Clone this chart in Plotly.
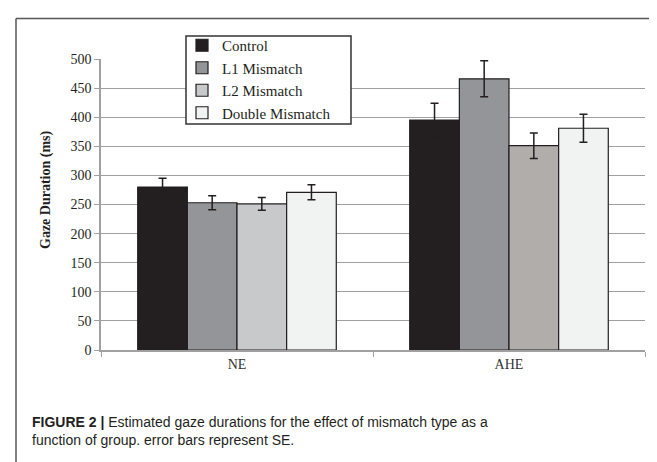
import plotly.graph_objects as go

groups = ["NE", "AHE"]
series = ["Control", "L1 Mismatch", "L2 Mismatch", "Double Mismatch"]
control = [280, 395]
l1_mismatch = [253, 466]
l2_mismatch = [251, 351]
double_mismatch = [271, 381]
control_se = [15, 29]
l1_se = [12, 31]
l2_se = [11, 22]
double_se = [13, 24]

values = [control, l1_mismatch, l2_mismatch, double_mismatch]
errors = [control_se, l1_se, l2_se, double_se]
colors = [["#231f20", "#231f20"], ["#939598", "#939598"],
          ["#c8c9cb", "#b1adab"], ["#f1f2f2", "#f1f2f2"]]

W, H = 657, 462
L, R, T, B = 93, 20, 51, 120
pw, ph = W - L - R, H - T - B


def px_x(x):
    return (x - L) / pw


def px_y(y):
    return (H - B - y) / ph


fig = go.Figure()
for name, vals, errs, col in zip(series, values, errors, colors):
    fig.add_trace(go.Bar(
        name=name, x=groups, y=vals,
        marker=dict(color=col, line=dict(color="#231f20", width=1.2)),
        error_y=dict(type="data", array=errs, visible=True,
                     color="#231f20", thickness=1.5, width=4),
    ))

fig.update_layout(
    width=W, height=H,
    margin=dict(l=L, r=R, t=T, b=B),
    paper_bgcolor="white", plot_bgcolor="white",
    barmode="group", bargap=0.27, bargroupgap=0,
    font=dict(family="Liberation Serif", size=14, color="#231f20"),
    showlegend=True,
    legend=dict(x=px_x(174), y=px_y(21), xanchor="left", yanchor="top",
                bgcolor="rgba(0,0,0,0)", borderwidth=0,
                font=dict(family="Liberation Serif", size=15, color="#231f20"),
                itemwidth=30, tracegroupgap=0),
    xaxis=dict(showline=True, linecolor="#a0a0a0", linewidth=1.5,
               ticks="outside", tickson="boundaries", tickcolor="#a0a0a0",
               ticklen=5, showgrid=False,
               tickfont=dict(family="Liberation Serif", size=14, color="#333333")),
    yaxis=dict(range=[0, 500], dtick=50, showline=True, linecolor="#a0a0a0",
               linewidth=1.5, ticks="outside", tickcolor="#a0a0a0", ticklen=5,
               showgrid=True, gridcolor="#a0a0a0", gridwidth=1.2,
               zeroline=False,
               tickfont=dict(family="Liberation Serif", size=14, color="#231f20")),
    shapes=[
        dict(type="line", xref="paper", yref="paper",
             x0=px_x(8), x1=px_x(670), y0=px_y(10.5), y1=px_y(10.5),
             line=dict(color="#555555", width=1.5)),
        dict(type="line", xref="paper", yref="paper",
             x0=px_x(8), x1=px_x(8), y0=px_y(10.5), y1=px_y(480),
             line=dict(color="#555555", width=1.5)),
        dict(type="rect", xref="paper", yref="paper", layer="above",
             x0=px_x(178), x1=px_x(343), y0=px_y(28), y1=px_y(116),
             fillcolor="white", line=dict(color="#333333", width=1.5)),
    ],
    annotations=[
        dict(text="<b>Gaze Duration (ms)</b>", textangle=-90,
             xref="paper", yref="paper", x=px_x(38), y=px_y(182),
             showarrow=False, xanchor="center", yanchor="middle",
             font=dict(family="Liberation Serif", size=14, color="#231f20")),
        dict(text="<b>FIGURE 2 |</b> Estimated gaze durations for the effect of mismatch type as a<br>function of group. error bars represent SE.",
             xref="paper", yref="paper", x=px_x(22), y=px_y(404),
             showarrow=False, xanchor="left", yanchor="top", align="left",
             font=dict(family="Liberation Sans", size=14, color="#231f20")),
    ],
)

fig.write_html("out.html")
